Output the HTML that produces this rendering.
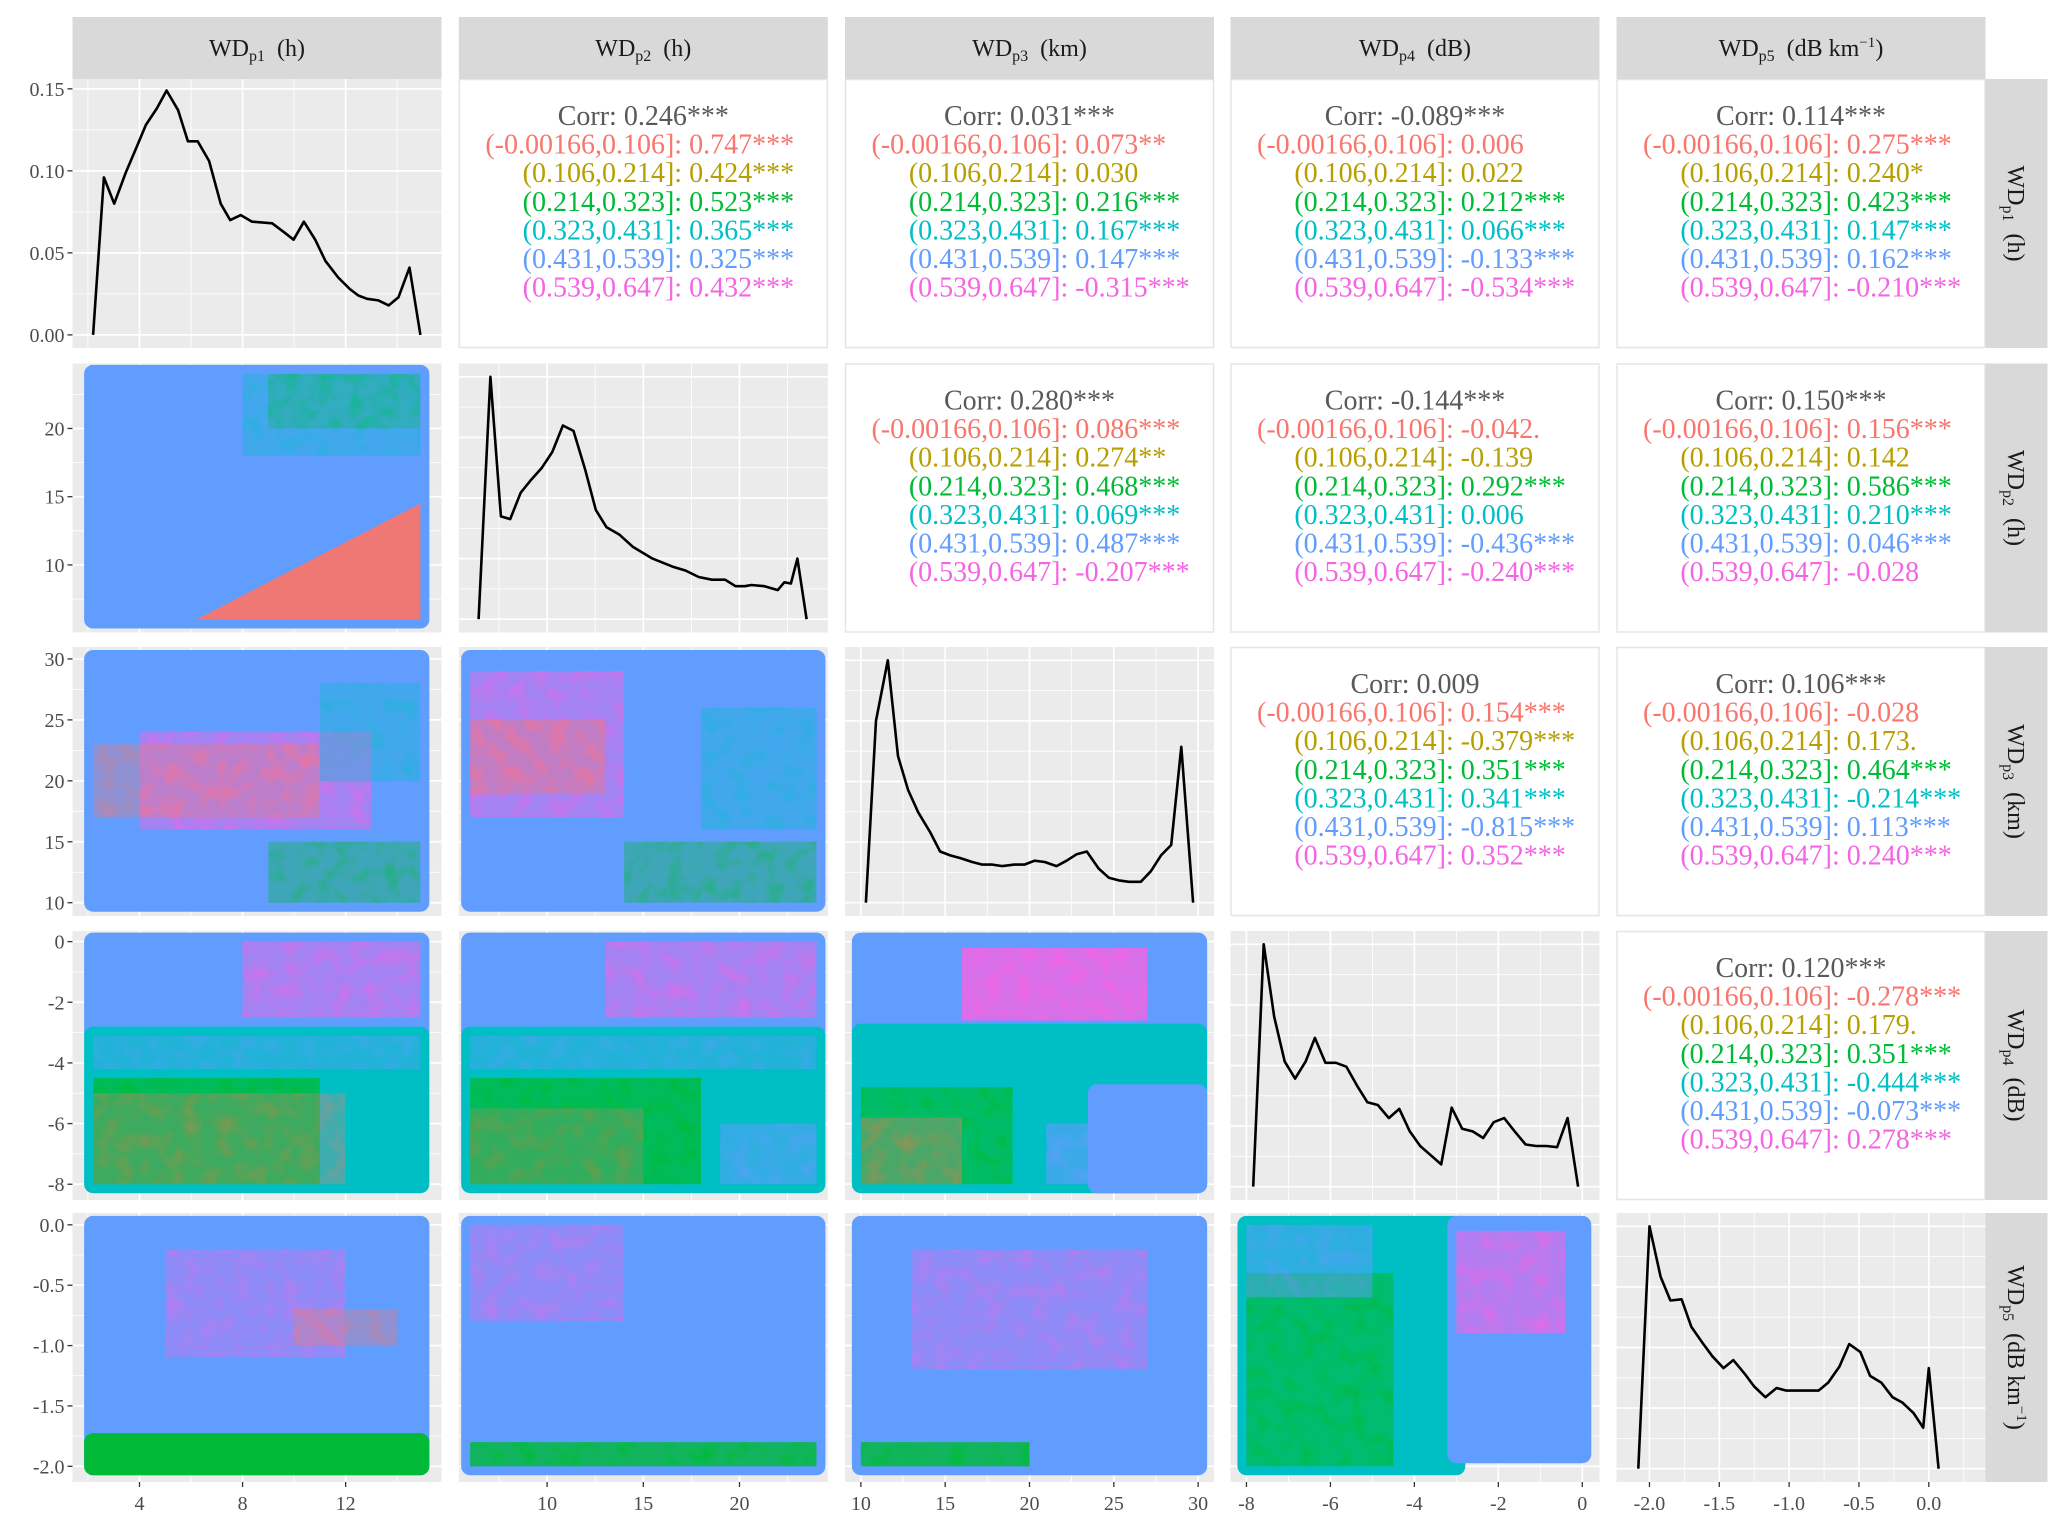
<!DOCTYPE html>
<html><head><meta charset="utf-8"><title>Pairs plot</title>
<style>
html,body{margin:0;padding:0;background:#fff;}
svg{display:block;font-family:"Liberation Serif",serif;}
</style></head>
<body>
<svg id="chart" width="2067" height="1529" viewBox="0 0 2067 1529" xmlns="http://www.w3.org/2000/svg">
<defs>
<filter id="mottle" x="0" y="0" width="100%" height="100%">
<feTurbulence type="fractalNoise" baseFrequency="0.06" numOctaves="2" seed="3" result="n"/>
<feColorMatrix in="n" type="matrix" values="0 0 0 0 1  0 0 0 0 1  0 0 0 0 1  0 0 0 -2.2 1.25" result="a"/>
<feComposite in="SourceGraphic" in2="a" operator="in"/>
</filter>
</defs>
</svg>
<script>
// ---------- data ----------
const varNames = ["p1","p2","p3","p4","p5"];
const varUnits = ["h","h","km","dB","dB km"];
const bins = ["(-0.00166,0.106]","(0.106,0.214]","(0.214,0.323]","(0.323,0.431]","(0.431,0.539]","(0.539,0.647]"];
const binColors = ["#F8766D","#B79F00","#00BA38","#00BFC4","#619CFF","#F564E3"];
const ticks1 = [4,8,12];
const ticks2 = [10,15,20];
const ticks3 = [10,15,20,25,30];
const ticks4 = [-8,-6,-4,-2,0];
const ticks5 = [-2.0,-1.5,-1.0,-0.5,0.0];
const tickLabels5 = ["-2.0","-1.5","-1.0","-0.5","0.0"];
const densTicks1 = [0,0.05,0.10,0.15];
const densTickLabels1 = ["0.00","0.05","0.10","0.15"];
const corrOverall = {"0-1":"0.246***","0-2":"0.031***","0-3":"-0.089***","0-4":"0.114***","1-2":"0.280***","1-3":"-0.144***","1-4":"0.150***","2-3":"0.009","2-4":"0.106***","3-4":"0.120***"};
const corr01 = ["0.747***","0.424***","0.523***","0.365***","0.325***","0.432***"];
const corr02 = ["0.073**","0.030","0.216***","0.167***","0.147***","-0.315***"];
const corr03 = ["0.006","0.022","0.212***","0.066***","-0.133***","-0.534***"];
const corr04 = ["0.275***","0.240*","0.423***","0.147***","0.162***","-0.210***"];
const corr12 = ["0.086***","0.274**","0.468***","0.069***","0.487***","-0.207***"];
const corr13 = ["-0.042.","-0.139","0.292***","0.006","-0.436***","-0.240***"];
const corr14 = ["0.156***","0.142","0.586***","0.210***","0.046***","-0.028"];
const corr23 = ["0.154***","-0.379***","0.351***","0.341***","-0.815***","0.352***"];
const corr24 = ["-0.028","0.173.","0.464***","-0.214***","0.113***","0.240***"];
const corr34 = ["-0.278***","0.179.","0.351***","-0.444***","-0.073***","0.278***"];
const dens1X = [2.2,2.62,3.02,3.47,3.85,4.25,4.67,5.05,5.5,5.88,6.26,6.7,7.15,7.52,7.93,8.37,9.15,9.66,9.98,10.38,10.82,11.22,11.71,12.16,12.49,12.83,13.27,13.67,14.05,14.48,14.9];
const dens1Y = [0,0.096,0.080,0.099,0.113,0.128,0.138,0.149,0.137,0.118,0.118,0.106,0.080,0.070,0.073,0.069,0.068,0.062,0.058,0.069,0.058,0.045,0.035,0.028,0.024,0.022,0.021,0.018,0.023,0.041,0];
const dens2X = [6.44,7.05,7.6,8.08,8.63,9.18,9.73,10.27,10.82,11.37,11.99,12.53,13.08,13.77,14.45,15.48,16.51,17.19,17.88,18.56,19.25,19.79,20.27,20.62,21.3,21.99,22.33,22.67,23.01,23.49];
const dens2Y = [0,1,0.424,0.413,0.522,0.576,0.625,0.690,0.799,0.777,0.614,0.451,0.380,0.348,0.299,0.25,0.217,0.201,0.174,0.163,0.163,0.136,0.136,0.141,0.136,0.12,0.152,0.147,0.25,0];
const dens3X = [10.3,10.9,11.6,12.2,12.8,13.4,14.1,14.7,15.3,15.9,16.6,17.2,17.8,18.4,19.1,19.7,20.3,20.9,21.6,22.2,22.8,23.4,24.1,24.7,25.3,25.9,26.6,27.2,27.8,28.4,29.0,29.7];
const dens3Y = [0,0.751,1,0.605,0.465,0.373,0.292,0.211,0.195,0.184,0.168,0.157,0.157,0.151,0.157,0.157,0.173,0.168,0.151,0.173,0.2,0.211,0.141,0.103,0.092,0.086,0.086,0.13,0.195,0.238,0.643,0];
const dens4X = [-7.84,-7.59,-7.34,-7.09,-6.84,-6.59,-6.37,-6.12,-5.87,-5.62,-5.37,-5.12,-4.87,-4.61,-4.36,-4.11,-3.86,-3.61,-3.36,-3.11,-2.86,-2.61,-2.36,-2.11,-1.86,-1.61,-1.35,-1.1,-0.85,-0.6,-0.35,-0.1];
const dens4Y = [0,1,0.701,0.516,0.446,0.516,0.614,0.511,0.511,0.495,0.418,0.348,0.337,0.283,0.321,0.228,0.168,0.130,0.092,0.326,0.239,0.228,0.201,0.266,0.283,0.228,0.174,0.168,0.168,0.163,0.283,0];
const dens5X = [-2.08,-2.0,-1.92,-1.85,-1.77,-1.70,-1.62,-1.55,-1.47,-1.40,-1.32,-1.25,-1.17,-1.09,-1.02,-0.94,-0.87,-0.79,-0.72,-0.64,-0.57,-0.49,-0.42,-0.34,-0.26,-0.19,-0.11,-0.04,0.0,0.07];
const dens5Y = [0,1,0.792,0.694,0.699,0.585,0.519,0.464,0.415,0.448,0.393,0.339,0.295,0.333,0.322,0.322,0.322,0.322,0.355,0.421,0.514,0.481,0.383,0.355,0.295,0.273,0.23,0.169,0.415,0];
// scatter regions (data units): [x0,x1,y0,y1,binIndex,opacity]
const scat10 = [[2.2,14.9,6,24,4,1],[8,14.9,18,24,3,0.3],[9,14.9,20,24,2,0.25]];
const scat10Tri = [[6.2,6],[14.9,6],[14.9,14.5]];
const scat20 = [[2.2,14.9,10,30,4,1],[4,13,16,24,5,0.45],[2.2,11,17,23,0,0.3],[9,14.9,10,15,2,0.35],[11,14.9,20,28,3,0.3]];
const scat21 = [[6,24,10,30,4,1],[6,14,17,29,5,0.45],[6,13,19,25,0,0.35],[14,24,10,15,2,0.35],[18,24,16,26,3,0.3]];
const scat30 = [[2.2,14.9,-3,0,4,1],[8,14.9,-2.5,0,5,0.45],[2.2,14.9,-8,-3.1,3,1],[2.2,11,-8,-4.5,2,0.75],[2.2,12,-8,-5,0,0.25],[2.2,14.9,-4.2,-3.1,4,0.35]];
const scat31 = [[6,24,-3,0,4,1],[13,24,-2.5,0,5,0.45],[6,24,-8,-3.1,3,1],[6,18,-8,-4.5,2,0.75],[6,15,-8,-5.5,0,0.2],[6,24,-4.2,-3.1,4,0.35],[19,24,-8,-6,4,0.5]];
const scat32 = [[10,30,-3,0,4,1],[16,27,-2.6,-0.2,5,0.8],[10,30,-8,-3,3,1],[10,19,-8,-4.8,2,0.65],[10,16,-8,-5.8,0,0.3],[24,30,-8,-5,4,1],[21,24,-8,-6,4,0.6]];
const scat40 = [[2.2,14.9,-2,0,4,1],[2.2,14.9,-2,-1.8,2,1],[5,12,-1.1,-0.2,5,0.3],[10,14,-1,-0.7,0,0.3]];
const scat41 = [[6,24,-2,0,4,1],[6,24,-2,-1.8,2,0.8],[6,14,-0.8,0,5,0.3]];
const scat42 = [[10,30,-2,0,4,1],[10,20,-2,-1.8,2,0.8],[13,27,-1.2,-0.2,5,0.3]];
const scat43 = [[-8,-3,-2,0,3,1],[-8,-4.5,-2,-0.4,2,0.6],[-8,-5,-0.6,0,4,0.45],[-3,0,-1.9,0,4,1],[-3,-0.4,-0.9,-0.05,5,0.55]];

// ---------- layout ----------
const svg = document.getElementById('chart');
const NS = "http://www.w3.org/2000/svg";
const colL = [72.5,458.8,845,1230.5,1616.5];
const PW = 369;
const rowT = [79,363.5,647,931,1213];
const PH = 269;
const xDom = [[1.40,15.72],[5.41,24.59],[9.06,30.94],[-8.38,0.41],[-2.236,0.406]];
const yDom = [[-0.008,0.156],[5.05,24.76],[8.91,30.98],[-8.52,0.35],[-2.13,0.098]];
const xTicks = [ticks1,ticks2,ticks3,ticks4,ticks5];
const xTickLabels = [ticks1.map(String),ticks2.map(String),ticks3.map(String),ticks4.map(String),tickLabels5];
const densX = [dens1X,dens2X,dens3X,dens4X,dens5X];
const densY = [dens1Y,dens2Y,dens3Y,dens4Y,dens5Y];
const corrs = {"0-1":corr01,"0-2":corr02,"0-3":corr03,"0-4":corr04,"1-2":corr12,"1-3":corr13,"1-4":corr14,"2-3":corr23,"2-4":corr24,"3-4":corr34};
const scats = {"1-0":scat10,"2-0":scat20,"2-1":scat21,"3-0":scat30,"3-1":scat31,"3-2":scat32,"4-0":scat40,"4-1":scat41,"4-2":scat42,"4-3":scat43};

function el(tag, attrs, parent){
  const e = document.createElementNS(NS, tag);
  for (const k in attrs) e.setAttribute(k, attrs[k]);
  (parent||svg).appendChild(e);
  return e;
}
function sx(c, v){ const d=xDom[c]; return colL[c] + (v-d[0])/(d[1]-d[0])*PW; }
function syScale(r, dom, v){ return rowT[r] + PH - (v-dom[0])/(dom[1]-dom[0])*PH; }
function midpoints(t){ const out=[]; const step=t[1]-t[0]; out.push(t[0]-step/2); for(let i=0;i<t.length;i++) out.push(t[i]+step/2); return out; }

function gridPanel(g, r, c, yd, yt){
  el('rect',{x:colL[c],y:rowT[r],width:PW,height:PH,fill:'#EBEBEB'},g);
  const xt = xTicks[c];
  midpoints(xt).forEach(v=>{ const x=sx(c,v); if(x>colL[c]&&x<colL[c]+PW) el('line',{x1:x,x2:x,y1:rowT[r],y2:rowT[r]+PH,stroke:'#fff','stroke-width':0.8},g); });
  midpoints(yt).forEach(v=>{ const y=syScale(r,yd,v); if(y>rowT[r]&&y<rowT[r]+PH) el('line',{x1:colL[c],x2:colL[c]+PW,y1:y,y2:y,stroke:'#fff','stroke-width':0.8},g); });
  xt.forEach(v=>{ const x=sx(c,v); el('line',{x1:x,x2:x,y1:rowT[r],y2:rowT[r]+PH,stroke:'#fff','stroke-width':1.7},g); });
  yt.forEach(v=>{ const y=syScale(r,yd,v); el('line',{x1:colL[c],x2:colL[c]+PW,y1:y,y2:y,stroke:'#fff','stroke-width':1.7},g); });
}
const rowYTicks = [densTicks1, ticks2, ticks3, ticks4, ticks5];
const densHTicks = [0,0.25,0.5,0.75,1];
const densHDom = [-0.055,1.055];

for (let r=0;r<5;r++){
  for (let c=0;c<5;c++){
    const g = el('g',{});
    if (r===c){
      
      
      const yd = r===0 ? yDom[0] : densHDom;
      const yt = r===0 ? densTicks1 : densHTicks;
      gridPanel(g,r,c,yd,yt);
      const xs = densX[c], ys = densY[c];
      let d = '';
      for (let i=0;i<xs.length;i++){ d += (i?'L':'M') + sx(c,xs[i]).toFixed(1)+','+syScale(r,yd,ys[i]).toFixed(1); }
      const p = el('path',{d:d,fill:'none',stroke:'#000','stroke-width':2.6,'stroke-linejoin':'round'},g);
      
      
    } else if (c>r){
      
      
      el('rect',{x:colL[c]+0.5,y:rowT[r]+0.5,width:PW-1,height:PH-1,fill:'#fff',stroke:'#E5E5E5','stroke-width':1.5},g);
      const cx = colL[c]+PW/2;
      const key = r+'-'+c;
      const t0 = el('text',{x:cx,y:rowT[r]+46,'text-anchor':'middle','font-size':28,fill:'#595959'},g);
      t0.textContent = 'Corr: '+corrOverall[key];
      
      
      const vals = corrs[key];
      for (let i=0;i<6;i++){
        const y = rowT[r]+46+28.6*(i+1);
        const a = el('text',{x:cx+31,y:y,'text-anchor':'end','font-size':28,fill:binColors[i]},g);
        a.textContent = bins[i];
        
        
        const b = el('text',{x:cx+31,y:y,'text-anchor':'start','font-size':28,fill:binColors[i]},g);
        b.textContent = ': '+vals[i];
        
        
      }
    } else {
      
      
      gridPanel(g,r,c,yDom[r],rowYTicks[r]);
      const regs = scats[r+'-'+c];
      regs.forEach((q)=>{
        const x0=sx(c,q[0]), x1=sx(c,q[1]), y0=syScale(r,yDom[r],q[3]), y1=syScale(r,yDom[r],q[2]);
        const pad = q[5]===1 ? 9 : 0;
        const rr = el('rect',{x:x0-pad,y:y0-pad,width:x1-x0+2*pad,height:y1-y0+2*pad,rx:pad?9:0,fill:binColors[q[4]],'fill-opacity':q[5]},g);
        
        
        if (q[5] < 1){
          const tx = el('rect',{x:x0,y:y0,width:x1-x0,height:y1-y0,fill:binColors[q[4]],'fill-opacity':Math.min(1,q[5]*1.2),filter:'url(#mottle)'},g);
          
          
        }
      });
      if (r===1 && c===0){
        const pts = scat10Tri.map(p=>sx(c,p[0]).toFixed(1)+','+syScale(r,yDom[r],p[1]).toFixed(1)).join(' ');
        const tri = el('polygon',{points:pts,fill:binColors[0],'fill-opacity':0.95},g);
        
        
      }
    }
  }
}

for (let r=0;r<5;r++){
  const g = el('g',{});
  
  
  const yt = rowYTicks[r];
  const labels = r===0 ? densTickLabels1 : (r===4 ? tickLabels5 : yt.map(String));
  yt.forEach((v,i)=>{
    const y = syScale(r,yDom[r],v);
    el('line',{x1:colL[0]-5,x2:colL[0],y1:y,y2:y,stroke:'#333','stroke-width':1.3},g);
    const t = el('text',{x:colL[0]-8,y:y+7,'text-anchor':'end','font-size':20,fill:'#4D4D4D'},g);
    t.textContent = labels[i];
  });
}
for (let c=0;c<5;c++){
  const g = el('g',{});
  
  
  const yb = rowT[4]+PH;
  xTicks[c].forEach((v,i)=>{
    const x = sx(c,v);
    el('line',{x1:x,x2:x,y1:yb,y2:yb+5,stroke:'#333','stroke-width':1.3},g);
    const t = el('text',{x:x,y:yb+28,'text-anchor':'middle','font-size':20,fill:'#4D4D4D'},g);
    t.textContent = xTickLabels[c][i];
  });
}
function stripLabel(t, i){
  const a = document.createElementNS(NS,'tspan'); a.textContent='WD'; t.appendChild(a);
  const b = document.createElementNS(NS,'tspan'); b.setAttribute('font-size','16'); b.setAttribute('dy','5'); b.textContent=varNames[i]; t.appendChild(b);
  const cc = document.createElementNS(NS,'tspan'); cc.setAttribute('dy','-5'); cc.textContent='\u00a0\u00a0('+varUnits[i]; t.appendChild(cc);
  if (i===4){ const s=document.createElementNS(NS,'tspan'); s.setAttribute('font-size','15'); s.setAttribute('dy','-9'); s.textContent='\u22121'; t.appendChild(s);
    const e=document.createElementNS(NS,'tspan'); e.setAttribute('dy','9'); e.textContent=')'; t.appendChild(e);}
  else { const e=document.createElementNS(NS,'tspan'); e.textContent=')'; t.appendChild(e); }
}
for (let c=0;c<5;c++){
  const g = el('g',{});
  
  
  el('rect',{x:colL[c],y:17,width:PW,height:62,fill:'#D9D9D9'},g);
  const t = el('text',{x:colL[c]+PW/2,y:56,'text-anchor':'middle','font-size':24,fill:'#1A1A1A'},g);
  stripLabel(t,c);
}
for (let r=0;r<5;r++){
  const g = el('g',{});
  
  
  el('rect',{x:1985.5,y:rowT[r],width:62,height:PH,fill:'#D9D9D9'},g);
  const cy = rowT[r]+PH/2;
  const t = el('text',{x:0,y:0,'text-anchor':'middle','font-size':24,fill:'#1A1A1A',transform:'translate(2008,'+cy+') rotate(90)'},g);
  stripLabel(t,r);
}
</script>
</body></html>
